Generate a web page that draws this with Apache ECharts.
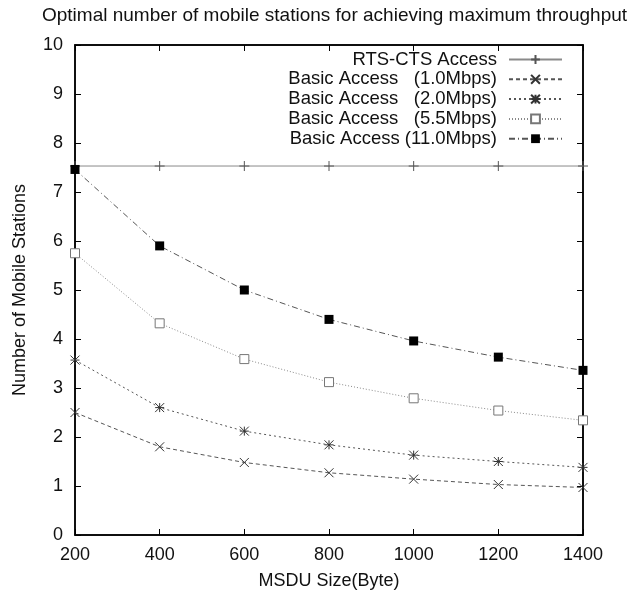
<!DOCTYPE html>
<html>
<head>
<meta charset="utf-8">
<script src="https://cdn.jsdelivr.net/npm/echarts@6/dist/echarts.min.js"></script>
<style>
  html, body { margin: 0; padding: 0; background: #fff; }
  #chart { width: 633px; height: 596px; }
</style>
</head>
<body>
<div id="chart"></div>
<script>
// MSDU sizes (bytes)
const msduSizes = [200, 400, 600, 800, 1000, 1200, 1400]
const seriesNames = [
  'RTS-CTS Access',
  'Basic Access   (1.0Mbps)',
  'Basic Access   (2.0Mbps)',
  'Basic Access   (5.5Mbps)',
  'Basic Access (11.0Mbps)'
]
const rtsCts = [7.53, 7.53, 7.53, 7.53, 7.53, 7.53, 7.53]
const basic1 = [2.50, 1.80, 1.48, 1.27, 1.14, 1.03, 0.97]
const basic2 = [3.57, 2.60, 2.12, 1.84, 1.63, 1.50, 1.38]
const basic55 = [5.75, 4.32, 3.59, 3.12, 2.79, 2.54, 2.34]
const basic11 = [7.46, 5.90, 5.00, 4.40, 3.96, 3.63, 3.36]

const font = 'Liberation Sans'
const pair = (ys) => msduSizes.map((x, i) => [x, ys[i]])

const plus = 'path://M5,0L5,10M0,5L10,5'
const cross = 'path://M0,0L10,10M10,0L0,10'
const star = 'path://M0,0L10,10M10,0L0,10M5,0L5,10M0,5L10,5'

// fresh objects per axis, the four axes make the gnuplot box
const frame = () => ({
  type: 'value',
  axisLine: { show: true, onZero: false, lineStyle: { color: '#000', width: 1.5 } },
  axisTick: { show: true, inside: true, length: 6, lineStyle: { color: '#000', width: 1 } },
  splitLine: { show: false }
})

const chart = echarts.init(document.getElementById('chart'))
chart.setOption({
  animation: false,
  title: {
    text: 'Optimal number of mobile stations for achieving maximum throughput',
    left: 37,
    top: 1,
    textStyle: { fontFamily: font, fontSize: 19, fontWeight: 'normal', color: '#111' }
  },
  grid: {
    left: 75, right: 50, top: 45, bottom: 61,
    show: true, borderColor: '#000', borderWidth: 1.5, backgroundColor: 'transparent'
  },
  legend: {
    orient: 'vertical',
    align: 'right',
    right: 65,
    top: 45,
    itemGap: 0.8,
    itemWidth: 53,
    itemHeight: 11,
    data: seriesNames,
    formatter: (name) => '{n|' + name + '}',
    textStyle: {
      rich: {
        n: { fontFamily: font, fontSize: 18.5, color: '#111', width: 216, align: 'right', lineHeight: 18, padding: [0, 7, 0, 0] }
      }
    }
  },
  xAxis: [
    Object.assign(frame(), {
      position: 'bottom',
      min: 200, max: 1400, interval: 200,
      name: 'MSDU Size(Byte)',
      nameLocation: 'middle',
      nameGap: 37,
      nameTextStyle: { fontFamily: font, fontSize: 18, color: '#111' },
      axisLabel: { fontFamily: font, fontSize: 18, color: '#111', margin: 11, formatter: (v) => String(v) }
    }),
    Object.assign(frame(), {
      position: 'top',
      min: 200, max: 1400, interval: 200,
      axisLabel: { show: false }
    })
  ],
  yAxis: [
    Object.assign(frame(), {
      position: 'left',
      min: 0, max: 10, interval: 1,
      name: 'Number of Mobile Stations',
      nameLocation: 'middle',
      nameGap: 46,
      nameTextStyle: { fontFamily: font, fontSize: 18, color: '#111' },
      axisLabel: { fontFamily: font, fontSize: 18, color: '#111', margin: 12 }
    }),
    Object.assign(frame(), {
      position: 'right',
      min: 0, max: 10, interval: 1,
      axisLabel: { show: false }
    })
  ],
  series: [
    {
      name: seriesNames[0], type: 'line', data: pair(rtsCts),
      symbol: plus, symbolSize: 10,
      lineStyle: { color: '#8a8a8a', width: 1, type: 'solid' },
      itemStyle: { color: '#555', borderColor: '#555', borderWidth: 1 }
    },
    {
      name: seriesNames[1], type: 'line', data: pair(basic1),
      symbol: cross, symbolSize: 9,
      lineStyle: { color: '#555', width: 1, type: [4, 3] },
      itemStyle: { color: '#333', borderColor: '#333', borderWidth: 1 }
    },
    {
      name: seriesNames[2], type: 'line', data: pair(basic2),
      symbol: star, symbolSize: 9,
      lineStyle: { color: '#555', width: 1, type: [2, 3] },
      itemStyle: { color: '#333', borderColor: '#333', borderWidth: 1 }
    },
    {
      name: seriesNames[3], type: 'line', data: pair(basic55),
      symbol: 'rect', symbolSize: 9,
      lineStyle: { color: '#888', width: 1, type: [1, 2] },
      itemStyle: { color: '#fff', borderColor: '#777', borderWidth: 1 }
    },
    {
      name: seriesNames[4], type: 'line', data: pair(basic11),
      symbol: 'rect', symbolSize: 9,
      lineStyle: { color: '#555', width: 1, type: [6, 3, 1, 3] },
      itemStyle: { color: '#000', borderColor: '#000', borderWidth: 0 }
    }
  ]
})
</script>
</body>
</html>
